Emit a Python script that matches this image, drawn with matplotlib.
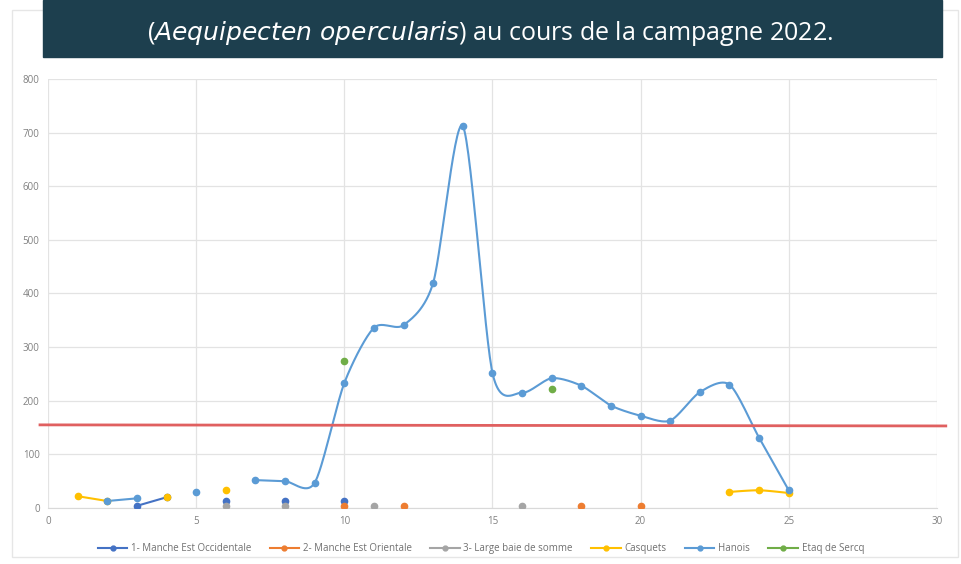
import matplotlib.pyplot as plt
import matplotlib.transforms as mtransforms
import numpy as np

nan = np.nan
stations = np.arange(1, 26)

# values per station 1..25 (nan = no sample)
manche_occ = [nan, nan, 4, 20, nan, 13, nan, 13, nan, 13, nan, nan, nan, nan, nan,
              nan, nan, nan, nan, nan, nan, nan, nan, nan, nan]
manche_ori = [nan, nan, nan, nan, nan, nan, nan, nan, nan, 4, nan, 4, nan, nan, nan,
              nan, nan, 4, nan, 4, nan, nan, nan, nan, nan]
baie_somme = [nan, nan, nan, nan, nan, 4, nan, 4, nan, nan, 4, nan, nan, nan, nan,
              4, nan, nan, nan, nan, nan, nan, nan, nan, nan]
casquets = [22, 13, nan, 20, nan, 33, nan, nan, nan, nan, nan, nan, nan, nan, nan,
            nan, nan, nan, nan, nan, nan, nan, 30, 33, 28]
hanois = [nan, 13, 18, nan, 30, nan, 52, 50, 47, 233, 336, 341, 420, 712, 252,
          215, 242, 228, 191, 172, 163, 216, 230, 131, 33]
etaq = [nan, nan, nan, nan, nan, nan, nan, nan, nan, 275, nan, nan, nan, nan, nan,
        nan, 222, nan, nan, nan, nan, nan, nan, nan, nan]
threshold = 155

series = [
    ("1- Manche Est Occidentale", manche_occ, "#4472C4"),
    ("2- Manche Est Orientale", manche_ori, "#ED7D31"),
    ("3- Large baie de somme", baie_somme, "#A5A5A5"),
    ("Casquets", casquets, "#FFC000"),
    ("Hanois", hanois, "#5B9BD5"),
    ("Etaq de Sercq", etaq, "#70AD47"),
]

title = r"($\it{Aequipecten\ opercularis}$) au cours de la campagne 2022."


def smooth(xs, ys, n=30, k=0.8):
    # cubic hermite through the points (softened catmull-rom), like excel's smoothed line
    if len(xs) < 3:
        return xs, ys
    p = np.column_stack([xs, ys]).astype(float)
    pp = np.vstack([p[0], p, p[-1]])
    m = k * 0.5 * (pp[2:] - pp[:-2])
    t = np.linspace(0, 1, n)[:, None]
    h00 = 2 * t**3 - 3 * t**2 + 1
    h10 = t**3 - 2 * t**2 + t
    h01 = -2 * t**3 + 3 * t**2
    h11 = t**3 - t**2
    out = []
    for i in range(len(p) - 1):
        out.append(h00 * p[i] + h10 * m[i] + h01 * p[i + 1] + h11 * m[i + 1])
    c = np.vstack(out)
    return c[:, 0], c[:, 1]


fig = plt.figure(figsize=(9.62, 5.64), dpi=100)
plt.rcParams['font.family'] = ['Open Sans', 'DejaVu Sans']
ax = fig.add_axes([0.0499, 0.0993, 0.924, 0.7607])

for name, vals, col in series:
    v = np.array(vals, dtype=float)
    ok = ~np.isnan(v)
    # split into contiguous runs
    idx = np.where(ok)[0]
    runs = np.split(idx, np.where(np.diff(idx) != 1)[0] + 1)
    for r in runs:
        if len(r) > 1:
            sx, sy = smooth(stations[r], v[r])
            ax.plot(sx, sy, color=col, lw=1.5, zorder=3)
    ax.plot(stations[ok], v[ok], 'o', color=col, ms=4.5, zorder=4)
    ax.plot([], [], color=col, lw=1.5, marker='o', ms=3.5, label=name)

trans = mtransforms.blended_transform_factory(ax.transAxes, ax.transData)
ax.plot([-0.009, 1.01], [threshold, threshold - 2], color="#E06060", lw=2,
        transform=trans, clip_on=False, zorder=5)

ax.set_xlim(0, 30)
ax.set_ylim(0, 800)
ax.set_xticks(range(0, 31, 5))
ax.set_yticks(range(0, 801, 100))
ax.grid(True, color="#E3E3E3", lw=0.9)
ax.set_axisbelow(True)
for s in ax.spines.values():
    s.set_visible(False)
ax.spines['bottom'].set_visible(True)
ax.spines['bottom'].set_color("#D9D9D9")
ax.tick_params(length=0, labelsize=7, labelcolor="#808080", pad=6)

fig.legend(loc='center', bbox_to_anchor=(0.5, 0.027), ncol=6, frameon=False,
           fontsize=7, labelcolor="#707070", handlelength=3, handletextpad=0.4,
           columnspacing=1.9)

# chart frame
fig.patches.append(plt.Rectangle((0.012, 0.012), 0.984, 0.97, transform=fig.transFigure,
                                 fill=False, ec="#E6E6E6", lw=1))
# title banner
fig.patches.append(plt.Rectangle((43 / 962, 1 - 57 / 564), 899 / 962, 57 / 564,
                                 transform=fig.transFigure, color="#1D3F4E", zorder=10))
fig.text(490 / 962, 1 - 33 / 564, title, color="white", fontsize=18,
         ha='center', va='center', zorder=11)

fig.savefig("out.png", dpi=100, facecolor="white")
